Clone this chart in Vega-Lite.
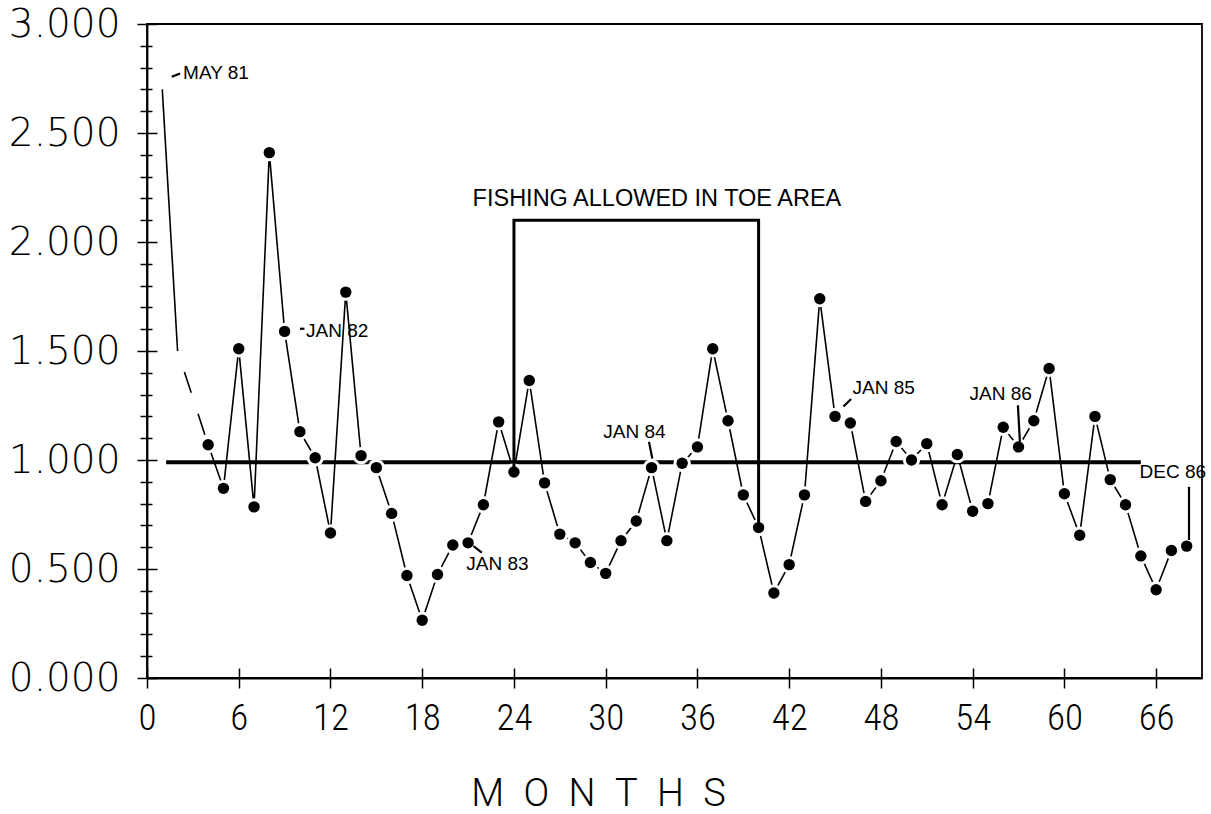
{
  "$schema": "https://vega.github.io/schema/vega-lite/v6.json",
  "width": 1055,
  "height": 654,
  "autosize": {"type": "none"},
  "padding": {"left": 147, "top": 24, "right": 9, "bottom": 136},
  "background": "white",
  "config": {
    "view": {"stroke": "black", "strokeWidth": 1.8},
    "axis": {"grid": false, "tickColor": "black", "domainColor": "black", "labelColor": "black", "titleColor": "black"}
  },
  "datasets": {
    "series": [
      {"month": 4, "value": 1.07}, {"month": 5, "value": 0.87}, {"month": 6, "value": 1.51},
      {"month": 7, "value": 0.785}, {"month": 8, "value": 2.41}, {"month": 9, "value": 1.59},
      {"month": 10, "value": 1.13}, {"month": 11, "value": 1.01}, {"month": 12, "value": 0.665},
      {"month": 13, "value": 1.77}, {"month": 14, "value": 1.02}, {"month": 15, "value": 0.965},
      {"month": 16, "value": 0.755}, {"month": 17, "value": 0.47}, {"month": 18, "value": 0.265},
      {"month": 19, "value": 0.475}, {"month": 20, "value": 0.61}, {"month": 21, "value": 0.62},
      {"month": 22, "value": 0.795}, {"month": 23, "value": 1.175}, {"month": 24, "value": 0.945},
      {"month": 25, "value": 1.365}, {"month": 26, "value": 0.895}, {"month": 27, "value": 0.66},
      {"month": 28, "value": 0.62}, {"month": 29, "value": 0.53}, {"month": 30, "value": 0.48},
      {"month": 31, "value": 0.63}, {"month": 32, "value": 0.72}, {"month": 33, "value": 0.965},
      {"month": 34, "value": 0.63}, {"month": 35, "value": 0.985}, {"month": 36, "value": 1.06},
      {"month": 37, "value": 1.51}, {"month": 38, "value": 1.18}, {"month": 39, "value": 0.84},
      {"month": 40, "value": 0.69}, {"month": 41, "value": 0.39}, {"month": 42, "value": 0.52},
      {"month": 43, "value": 0.84}, {"month": 44, "value": 1.74}, {"month": 45, "value": 1.2},
      {"month": 46, "value": 1.17}, {"month": 47, "value": 0.81}, {"month": 48, "value": 0.905},
      {"month": 49, "value": 1.085}, {"month": 50, "value": 1.0}, {"month": 51, "value": 1.075},
      {"month": 52, "value": 0.795}, {"month": 53, "value": 1.025}, {"month": 54, "value": 0.765},
      {"month": 55, "value": 0.8}, {"month": 56, "value": 1.15}, {"month": 57, "value": 1.06},
      {"month": 58, "value": 1.18}, {"month": 59, "value": 1.42}, {"month": 60, "value": 0.845},
      {"month": 61, "value": 0.655}, {"month": 62, "value": 1.2}, {"month": 63, "value": 0.91},
      {"month": 64, "value": 0.795}, {"month": 65, "value": 0.56}, {"month": 66, "value": 0.405},
      {"month": 67, "value": 0.585}, {"month": 68, "value": 0.605}
    ],
    "lead": [{"month": 1, "value": 2.7}, {"month": 2, "value": 1.5}],
    "bridge": [{"month": 2, "value": 1.5}, {"month": 4, "value": 1.07}],
    "mean": [{"start": 1.25, "end": 65, "level": 0.99}],
    "fishing": [
      {"month": 24, "value": 0.945, "step": 1},
      {"month": 24, "value": 2.1, "step": 2},
      {"month": 40, "value": 2.1, "step": 3},
      {"month": 40, "value": 0.69, "step": 4}
    ],
    "leaders": [
      {"m1": 1.62, "v1": 2.758, "m2": 2.16, "v2": 2.773},
      {"m1": 10.0, "v1": 1.602, "m2": 10.3, "v2": 1.602},
      {"m1": 21.35, "v1": 0.605, "m2": 21.9, "v2": 0.575},
      {"m1": 32.83, "v1": 1.083, "m2": 33.05, "v2": 1.007},
      {"m1": 45.55, "v1": 1.245, "m2": 46.05, "v2": 1.28},
      {"m1": 56.96, "v1": 1.251, "m2": 57.09, "v2": 1.083},
      {"m1": 68.15, "v1": 0.877, "m2": 68.15, "v2": 0.633}
    ],
    "notes": [
      {"label": "MAY 81", "month": 2.36, "value": 2.776},
      {"label": "JAN 82", "month": 10.4, "value": 1.594},
      {"label": "JAN 83", "month": 20.88, "value": 0.524},
      {"label": "JAN 84", "month": 29.84, "value": 1.129},
      {"label": "JAN 85", "month": 46.14, "value": 1.328},
      {"label": "JAN 86", "month": 53.8, "value": 1.305},
      {"label": "DEC 86", "month": 64.92, "value": 0.946}
    ],
    "heading": [{"label": "FISHING ALLOWED IN TOE AREA", "month": 33.35, "value": 2.195}]
  },
  "resolve": {"axis": {"x": "independent", "y": "independent"}},
  "layer": [
    {
      "data": {"name": "mean"},
      "mark": {"type": "rule", "color": "black", "strokeWidth": 4},
      "encoding": {
        "x": {
          "field": "start", "type": "quantitative",
          "scale": {"domain": [0, 69], "nice": false, "zero": false},
          "axis": {
            "orient": "bottom", "values": [0, 6, 12, 18, 24, 30, 36, 42, 48, 54, 60, 66],
            "tickSize": 10, "tickWidth": 1.5, "domainWidth": 1.8,
            "labelFont": "Roboto Condensed, Liberation Sans Narrow, DejaVu Sans Condensed, Roboto",
            "labelFontWeight": 300, "labelFontSize": 37, "labelPadding": 12,
            "labelFlush": false, "labelOverlap": false, "labelBound": false,
            "title": "M\u2002O\u2002N\u2002T\u2002H\u2002S",
            "titleFont": "Roboto", "titleFontWeight": 300, "titleFontSize": 38,
            "titleX": 451, "titleY": 127, "titleAlign": "center", "titleBaseline": "alphabetic"
          }
        },
        "x2": {"field": "end"},
        "y": {
          "field": "level", "type": "quantitative",
          "scale": {"domain": [0, 3], "nice": false, "zero": true},
          "axis": {
            "orient": "left", "values": [0, 0.5, 1, 1.5, 2, 2.5, 3], "format": ".3f",
            "tickSize": 10, "tickWidth": 1.5, "domainWidth": 1.8,
            "labelFont": "DejaVu Sans", "labelFontWeight": 200, "labelFontSize": 39, "labelPadding": 17,
            "labelFlush": false, "labelOverlap": false, "labelBound": false,
            "title": null
          }
        }
      }
    },
    {
      "data": {"name": "lead"},
      "mark": {"type": "line", "color": "black", "strokeWidth": 1.6},
      "encoding": {
        "x": {
          "field": "month", "type": "quantitative",
          "axis": {
            "orient": "bottom", "values": [0, 6, 12, 18, 24, 30, 36, 42, 48, 54, 60, 66],
            "tickSize": -10, "tickWidth": 1.5, "labels": false, "domain": false, "title": null
          }
        },
        "y": {
          "field": "value", "type": "quantitative",
          "axis": {
            "orient": "left", "values": [0, 0.5, 1, 1.5, 2, 2.5, 3],
            "tickSize": -10, "tickWidth": 1.5, "labels": false, "domain": false, "title": null
          }
        }
      }
    },
    {
      "data": {"name": "bridge"},
      "mark": {"type": "line", "color": "black", "strokeWidth": 1.6, "strokeDash": [22, 22], "strokeDashOffset": 22},
      "encoding": {
        "x": {"field": "month", "type": "quantitative", "axis": null},
        "y": {
          "field": "value", "type": "quantitative",
          "axis": {
            "orient": "left",
            "values": [0.1, 0.2, 0.3, 0.4, 0.6, 0.7, 0.8, 0.9, 1.1, 1.2, 1.3, 1.4, 1.6, 1.7, 1.8, 1.9, 2.1, 2.2, 2.3, 2.4, 2.6, 2.7, 2.8, 2.9],
            "tickSize": 7, "tickWidth": 1.5, "labels": false, "domain": false, "title": null
          }
        }
      }
    },
    {
      "data": {"name": "series"},
      "mark": {"type": "line", "color": "black", "strokeWidth": 1.6},
      "encoding": {
        "x": {"field": "month", "type": "quantitative", "axis": null},
        "y": {
          "field": "value", "type": "quantitative",
          "axis": {
            "orient": "left",
            "values": [0.1, 0.2, 0.3, 0.4, 0.6, 0.7, 0.8, 0.9, 1.1, 1.2, 1.3, 1.4, 1.6, 1.7, 1.8, 1.9, 2.1, 2.2, 2.3, 2.4, 2.6, 2.7, 2.8, 2.9],
            "tickSize": -5, "tickWidth": 1.5, "labels": false, "domain": false, "title": null
          }
        }
      }
    },
    {
      "data": {"name": "series"},
      "mark": {"type": "circle", "color": "white", "opacity": 1, "size": 300},
      "encoding": {
        "x": {"field": "month", "type": "quantitative", "axis": null},
        "y": {"field": "value", "type": "quantitative", "axis": null}
      }
    },
    {
      "data": {"name": "fishing"},
      "mark": {"type": "line", "color": "black", "strokeWidth": 3, "strokeJoin": "miter", "strokeCap": "square"},
      "encoding": {
        "x": {"field": "month", "type": "quantitative", "axis": null},
        "y": {"field": "value", "type": "quantitative", "axis": null},
        "order": {"field": "step", "type": "quantitative"}
      }
    },
    {
      "data": {"name": "series"},
      "mark": {"type": "circle", "color": "black", "opacity": 1, "size": 130},
      "encoding": {
        "x": {"field": "month", "type": "quantitative", "axis": null},
        "y": {"field": "value", "type": "quantitative", "axis": null}
      }
    },
    {
      "data": {"name": "leaders"},
      "mark": {"type": "rule", "color": "black", "strokeWidth": 2.2},
      "encoding": {
        "x": {"field": "m1", "type": "quantitative", "axis": null},
        "y": {"field": "v1", "type": "quantitative", "axis": null},
        "x2": {"field": "m2"},
        "y2": {"field": "v2"}
      }
    },
    {
      "data": {"name": "notes"},
      "mark": {"type": "text", "align": "left", "baseline": "middle", "font": "Liberation Sans", "fontSize": 19, "color": "black"},
      "encoding": {
        "x": {"field": "month", "type": "quantitative", "axis": null},
        "y": {"field": "value", "type": "quantitative", "axis": null},
        "text": {"field": "label"}
      }
    },
    {
      "data": {"name": "heading"},
      "mark": {"type": "text", "align": "center", "baseline": "middle", "font": "Liberation Sans", "fontSize": 23.5, "color": "black"},
      "encoding": {
        "x": {"field": "month", "type": "quantitative", "axis": null},
        "y": {"field": "value", "type": "quantitative", "axis": null},
        "text": {"field": "label"}
      }
    }
  ]
}
